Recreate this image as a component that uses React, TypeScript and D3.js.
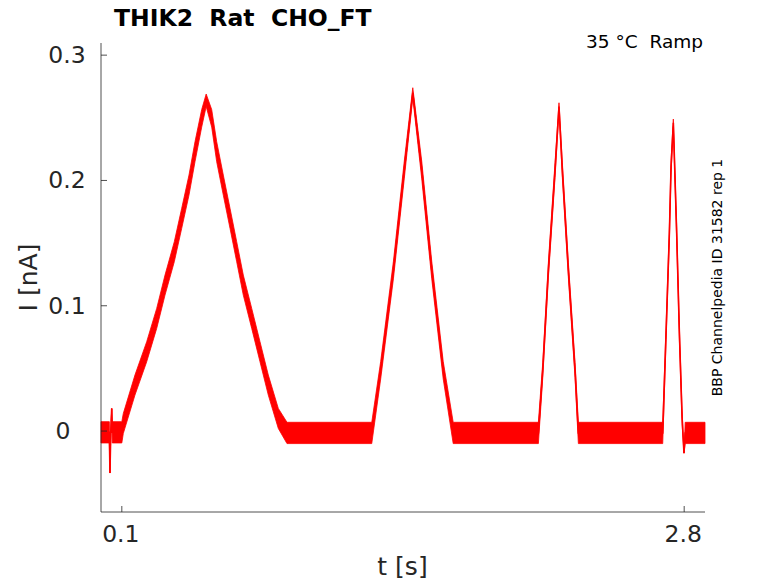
import React from "react";
import * as d3 from "d3";

// Time (s), current centre (nA) and half-width of the noise band (nA)
const timeS = [
  0.0, 0.04, 0.043, 0.047, 0.0514, 0.054, 0.1,
  0.107, 0.163, 0.2194, 0.2674, 0.3073, 0.3519, 0.3875, 0.4225, 0.4513, 0.4835, 0.505,
  0.5315, 0.5555, 0.5872, 0.6194, 0.6515, 0.6832, 0.7236, 0.7634, 0.8033, 0.8513, 0.893,
  1.3, 1.343, 1.404, 1.456, 1.497, 1.54, 1.588, 1.643, 1.691,
  2.1, 2.121, 2.148, 2.18, 2.199, 2.215, 2.244, 2.276, 2.292,
  2.697, 2.713, 2.729, 2.737, 2.748, 2.764, 2.777, 2.79, 2.799, 2.805, 2.9,
];
const currentNA = [
  -0.001, -0.001, -0.0335, -0.001, 0.018, -0.001, -0.001,
  0.006, 0.0367, 0.0633, 0.0899, 0.1165, 0.1431, 0.1698, 0.1963, 0.2229, 0.2496, 0.264,
  0.2496, 0.2229, 0.1963, 0.1698, 0.1431, 0.1165, 0.0899, 0.0633, 0.0367, 0.0101, -0.0015,
  -0.0015, 0.0487, 0.1285, 0.2083, 0.27, 0.2083, 0.1285, 0.0487, -0.0015,
  -0.0015, 0.0487, 0.1285, 0.2083, 0.259, 0.2083, 0.1285, 0.0487, -0.0015,
  -0.0015, 0.078, 0.158, 0.211, 0.246, 0.158, 0.078, 0.011, -0.0176, -0.0015, -0.0015,
];
const noiseHalfNA = [
  0.0085, 0.0085, 0, 0, 0, 0.0085, 0.0085,
  0.008, 0.008, 0.008, 0.008, 0.008, 0.008, 0.008, 0.008, 0.008, 0.007, 0.005,
  0.007, 0.008, 0.008, 0.008, 0.008, 0.008, 0.008, 0.008, 0.008, 0.008, 0.0085,
  0.0085, 0.007, 0.007, 0.007, 0.004, 0.007, 0.007, 0.007, 0.0085,
  0.0085, 0.006, 0.006, 0.006, 0.003, 0.006, 0.006, 0.006, 0.0085,
  0.0085, 0.005, 0.005, 0.005, 0.003, 0.005, 0.005, 0.005, 0, 0.0085, 0.0085,
];

const xTicks = [0.1, 2.8];
const xTickLabels = ["0.1", "2.8"];
const yTicks = [0, 0.1, 0.2, 0.3];
const yTickLabels = ["0", "0.1", "0.2", "0.3"];

const title = "THIK2  Rat  CHO_FT";
const condition = "35 °C  Ramp";
const sideNote = "BBP Channelpedia ID 31582 rep 1";

const W = 778;
const H = 583;
const L = 101, R = 705, T = 43, B = 512;
const FONT = "DejaVu Sans, sans-serif";
const AX = "#262626";
const PRE = { whiteSpace: "pre" as const };

export default function App() {
  const x = d3.scaleLinear().domain([0, 2.9]).range([L, R]);
  const y = d3.scaleLinear().domain([-0.0646, 0.3097]).range([B, T]);

  const pts = timeS.map((t, i) => ({ t, v: currentNA[i], h: noiseHalfNA[i] }));
  const area = d3
    .area<{ t: number; v: number; h: number }>()
    .x((d) => x(d.t))
    .y0((d) => y(d.v - d.h))
    .y1((d) => y(d.v + d.h));
  const line = d3
    .line<{ t: number; v: number; h: number }>()
    .x((d) => x(d.t))
    .y((d) => y(d.v));

  return (
    <svg width={W} height={H} style={{ position: "absolute", left: 0, top: 0 }} fontFamily={FONT}>
      <rect width={W} height={H} fill="#fff" />
      <path d={area(pts) || ""} fill="#ff0000" stroke="#ff0000" strokeWidth={0.8} />
      <path d={line(pts) || ""} fill="none" stroke="#ff0000" strokeWidth={1.6} />
      {/* axes */}
      <line x1={L} x2={L} y1={T} y2={B} stroke={AX} strokeWidth={1} opacity={0.8} />
      <line x1={L} x2={R} y1={B} y2={B} stroke={AX} strokeWidth={1} opacity={0.8} />
      {yTicks.map((v, i) => (
        <g key={"y" + i}>
          <line x1={L} x2={L + 6} y1={y(v)} y2={y(v)} stroke={AX} strokeWidth={1} opacity={0.8} />
          <text
            x={yTickLabels[i] === "0" ? 63 : 67}
            y={y(v) + 8}
            textAnchor="middle"
            fontSize={23.5}
            fill={AX}
          >
            {yTickLabels[i]}
          </text>
        </g>
      ))}
      {xTicks.map((v, i) => (
        <g key={"x" + i}>
          <line x1={x(v)} x2={x(v)} y1={B} y2={B - 6} stroke={AX} strokeWidth={1} opacity={0.8} />
          <text x={x(v) - 1} y={542} textAnchor="middle" fontSize={23.5} fill={AX}>
            {xTickLabels[i]}
          </text>
        </g>
      ))}
      <text x={402.5} y={575} textAnchor="middle" fontSize={25} fill={AX} style={PRE}>
        t [s]
      </text>
      <text transform="translate(37,277.5) rotate(-90)" textAnchor="middle" fontSize={25} fill={AX} style={PRE}>
        I [nA]
      </text>
      <text x={114} y={26} fontSize={23.5} fontWeight="bold" fill="#000" style={PRE}>
        {title}
      </text>
      <text x={703} y={47.5} textAnchor="end" fontSize={18.5} fill="#000" style={PRE}>
        {condition}
      </text>
      <text transform="translate(722,277.5) rotate(-90)" textAnchor="middle" fontSize={14} fill="#000" style={PRE}>
        {sideNote}
      </text>
    </svg>
  );
}
